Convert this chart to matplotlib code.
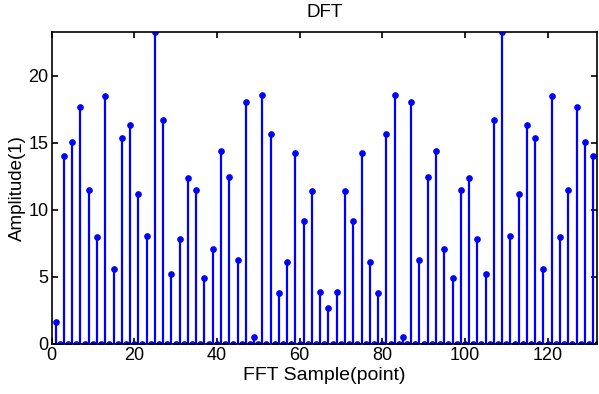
import numpy as np
import matplotlib
matplotlib.use('Agg')
import matplotlib.pyplot as plt  # noqa E402

# DFT magnitude, 132 points (MATLAB 1-based sample numbers)
sample = np.arange(1, 133)
amplitude = [
    1.67, 0, 13.98, 0, 15.02, 0, 17.66, 0, 11.47, 0, 7.96, 0,    # 1-12
    18.48, 0, 5.62, 0, 15.32, 0, 16.32, 0, 11.17, 0, 8.08, 0,    # 13-24
    23.26, 0, 16.67, 0, 5.20, 0, 7.86, 0, 12.39, 0, 11.47, 0,    # 25-36
    4.88, 0, 7.06, 0, 14.38, 0, 12.44, 0, 6.29, 0, 18.06, 0,     # 37-48
    0.55, 0, 18.56, 0, 15.67, 0, 3.78, 0, 6.14, 0, 14.25, 0,     # 49-60
    9.18, 0, 11.39, 0, 3.86, 0, 2.71, 0, 3.86, 0, 11.39, 0,      # 61-72
    9.18, 0, 14.25, 0, 6.14, 0, 3.78, 0, 15.67, 0, 18.56, 0,     # 73-84
    0.55, 0, 18.06, 0, 6.29, 0, 12.44, 0, 14.38, 0, 7.06, 0,     # 85-96
    4.88, 0, 11.47, 0, 12.39, 0, 7.86, 0, 5.20, 0, 16.67, 0,     # 97-108
    23.26, 0, 8.08, 0, 11.17, 0, 16.32, 0, 15.32, 0, 5.62, 0,    # 109-120
    18.48, 0, 7.96, 0, 11.47, 0, 17.66, 0, 15.02, 0, 13.98, 0,   # 121-132
]
xticks = [0, 20, 40, 60, 80, 100, 120]
yticks = [0, 5, 10, 15, 20]

plt.rcParams['font.family'] = ['Liberation Sans', 'DejaVu Sans']

fig = plt.figure(figsize=(5.99, 3.94), dpi=100)
ax = fig.add_axes([0.086, 0.127, 0.911, 0.792])

markers, stems, base = ax.stem(sample, amplitude, linefmt='-', basefmt='-')
plt.setp(stems, color='#0000ff', linewidth=1.6)
plt.setp(markers, color='#0000ff', markersize=3.8)
plt.setp(base, color='#0000ff', linewidth=1.0)

ax.set_xlim(0, 132)
ax.set_ylim(0, max(amplitude))
ax.set_xticks(xticks)
ax.set_yticks(yticks)
ax.tick_params(direction='in', top=True, right=True, length=4.5,
               width=1.2, labelsize=13, pad=2)
for s in ax.spines.values():
    s.set_linewidth(1.2)

ax.set_title('DFT', fontsize=13.5, pad=11)
ax.set_xlabel('FFT Sample(point)', fontsize=14, labelpad=2)
ax.set_ylabel('Amplitude(1)', fontsize=13.5, labelpad=2)

fig.savefig('out.png', dpi=100)
plt.close(fig)
